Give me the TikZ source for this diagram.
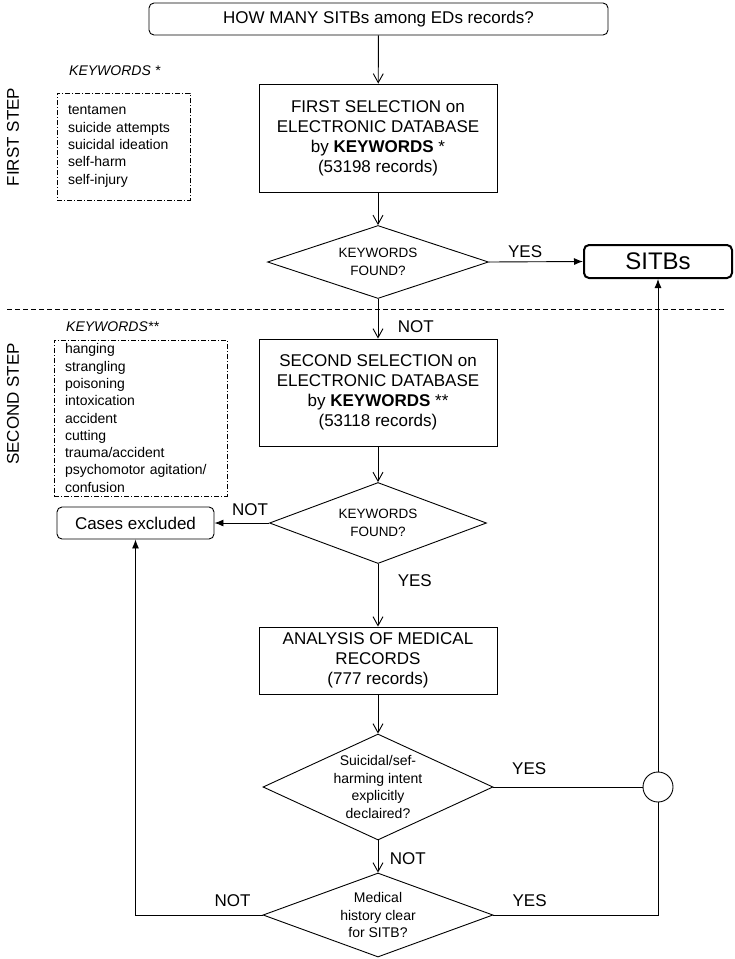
\documentclass[tikz,border=0pt]{standalone}
\usepackage{fontspec}
\setmainfont{Liberation Sans}
\usetikzlibrary{shapes.geometric,arrows.meta}

\begin{document}
\begin{tikzpicture}[x=1pt, y=-1pt,
  every node/.style={font=\fontsize{17}{20}\selectfont},
  process/.style={draw, line width=0.9pt, align=center, minimum width=238pt, inner sep=0pt},
  terminal/.style={draw, line width=0.9pt, rounded corners=5pt, inner sep=0pt},
  decision/.style={draw, diamond, line width=0.9pt, align=center, inner sep=0pt,
    font=\fontsize{14}{17.5}\selectfont},
  kwlist/.style={draw, line width=0.7pt, dash pattern=on 5pt off 2pt on 1pt off 2pt,
    align=left, inner xsep=11pt, inner ysep=0pt, font=\fontsize{14}{17.3}\selectfont},
  kwtitle/.style={anchor=west, inner sep=0pt, font=\fontsize{14}{17}\itshape},
  steplabel/.style={rotate=90, inner sep=0pt},
  openarrow/.style={-{Straight Barb[length=9pt,width=10pt]}, line width=0.9pt},
  fillarrow/.style={-{Latex[length=9pt,width=7pt]}, line width=0.9pt},
  link/.style={line width=0.9pt}
]
\useasboundingbox (0,0) rectangle (735,959);

% Question
\node[terminal, minimum width=459pt, minimum height=32pt] (quest) at (378.5,19) {HOW MANY SITBs among EDs records?};

% First step
\node[steplabel] (step1) at (13,137) {FIRST STEP};
\node[kwtitle] (kw1title) at (69,71) {KEYWORDS *};
\node[kwlist, text width=111pt, minimum height=107pt] (kw1) at (123.5,146.5) {tentamen\\suicide attempts\\suicidal ideation\\self-harm\\self-injury};
\node[process, minimum height=108pt] (sel1) at (378,138) {FIRST SELECTION on\\ELECTRONIC DATABASE\\by \textbf{KEYWORDS} *\\(53198 records)};
\node[decision, font=\fontsize{13.5}{18}\selectfont, aspect=3, minimum width=221pt, minimum height=73pt] (dec1) at (378,262) {KEYWORDS\\FOUND?};
\node[terminal, line width=2pt, minimum width=148pt, minimum height=33pt, font=\fontsize{24}{28}\selectfont] (sitb) at (658,261.5) {SITBs};

% Separator
\draw[line width=0.7pt, dash pattern=on 5pt off 3pt] (7,309) -- (724,309);

% Second step
\node[steplabel] (step2) at (13,404) {SECOND STEP};
\node[kwtitle] (kw2title) at (66,327) {KEYWORDS**};
\node[kwlist, text width=151pt, minimum height=156pt] (kw2) at (140.5,418) {hanging\\strangling\\poisoning\\intoxication\\accident\\cutting\\trauma/accident\\psychomotor agitation/\\confusion};
\node[process, minimum height=107pt] (sel2) at (378,392.5) {SECOND SELECTION on\\ELECTRONIC DATABASE\\by \textbf{KEYWORDS} **\\(53118 records)};
\node[decision, font=\fontsize{13.5}{18}\selectfont, aspect=2.7, minimum width=217pt, minimum height=81pt] (dec2) at (378,523) {KEYWORDS\\FOUND?};
\node[terminal, minimum width=157pt, minimum height=32pt] (excl) at (135.5,523) {Cases excluded};
\node[process, minimum height=67pt] (ana) at (378,660.5) {ANALYSIS OF MEDICAL\\RECORDS\\(777 records)};
\node[decision, aspect=2.17, minimum width=230pt, minimum height=106pt] (dec3) at (378,787) {Suicidal/sef-\\harming intent\\explicitly\\declaired?};
\node[draw, circle, line width=0.9pt, minimum size=30pt, inner sep=0pt] (join) at (658,787) {};
\node[decision, aspect=2.74, minimum width=230pt, minimum height=84pt] (dec4) at (378,915) {Medical\\history clear\\for SITB?};

% Connectors
\draw[openarrow] (quest) -- (sel1);
\draw[openarrow] (sel1) -- (dec1);
\draw[fillarrow] (dec1.east) -- node[pos=0.385, above] {YES} (sitb.west);
\draw[openarrow] (dec1.south) -- node[pos=0.7, right=16pt] {NOT} (sel2.north);
\draw[openarrow] (sel2) -- (dec2);
\draw[fillarrow] (dec2.west) -- node[pos=0.35, above=4pt] {NOT} (excl.east);
\draw[openarrow] (dec2.south) -- node[pos=0.27, right=16pt] {YES} (ana.north);
\draw[openarrow] (ana) -- (dec3);
\draw[link] (dec3.east) -- node[pos=0.24, above=9pt] {YES} (join.west);
\draw[fillarrow] (join.north) -- (sitb.south);
\draw[openarrow] (dec3.south) -- node[pos=0.56, right=8pt] {NOT} (dec4.north);
\draw[link] (dec4.east) -| node[pos=0.11, above=5pt] {YES} (join.south);
\draw[fillarrow] (dec4.west) -| node[pos=0.118, above=5pt] {NOT} (excl.south);
\end{tikzpicture}
\end{document}
